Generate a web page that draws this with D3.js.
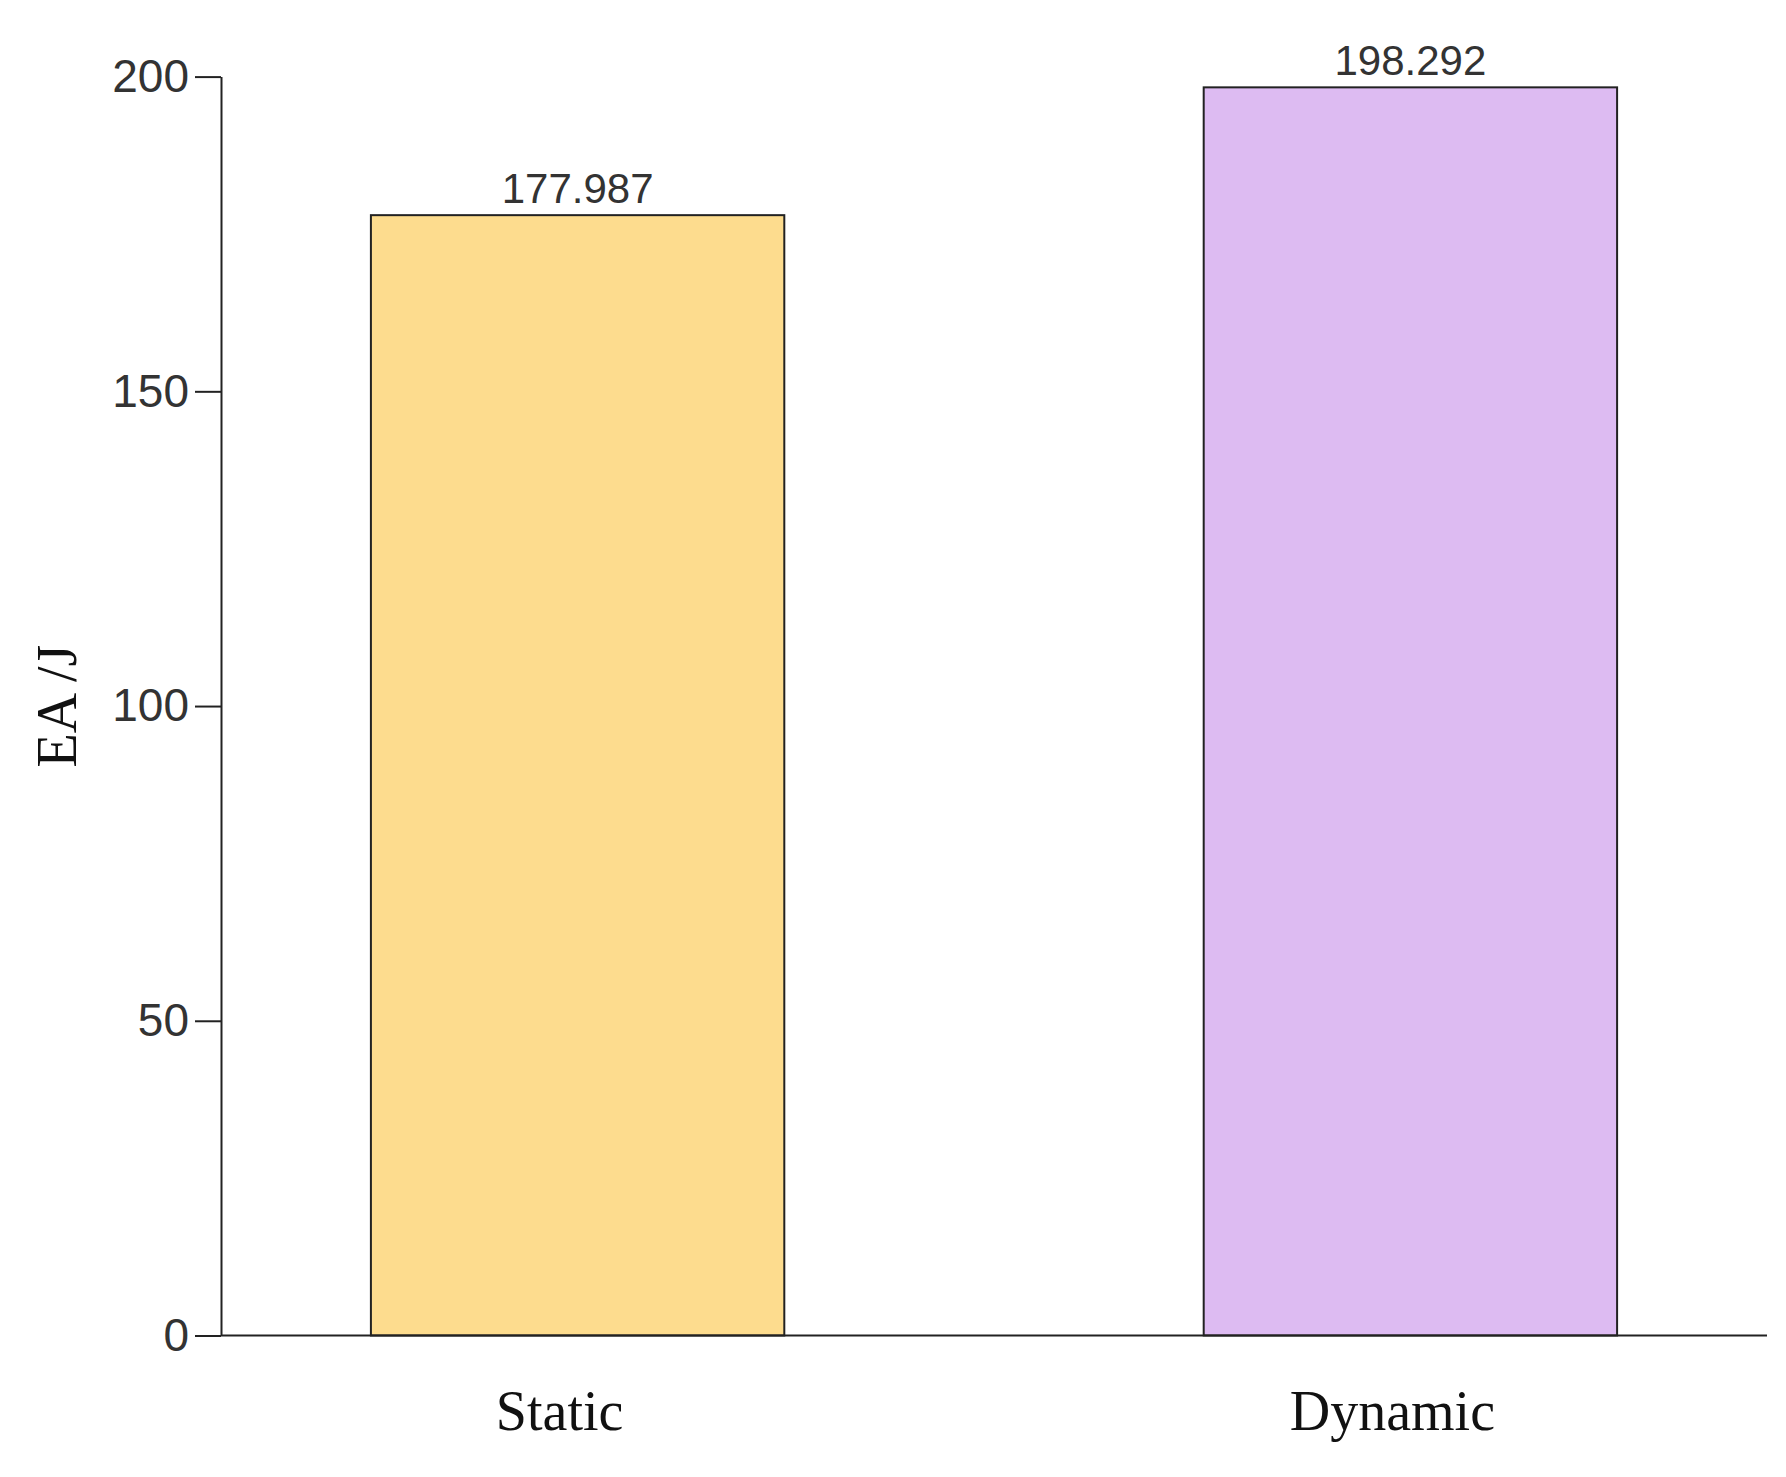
<!DOCTYPE html>
<html><head><meta charset="utf-8">
<script src="https://cdn.jsdelivr.net/npm/d3@7"></script>
<style>body{margin:0;background:#fff}</style></head>
<body><svg id="c" width="1786" height="1477"></svg>
<script>
const categories = ["Static", "Dynamic"];
const values = [177.987, 198.292];
const labels = ["177.987", "198.292"];
const colors = ["#FDDC8E", "#DDBBF2"];
const yTicks = [0, 50, 100, 150, 200];

const svg = d3.select("#c");
const L = 221, R = 1767, T = 76.6, B = 1335.5;
const x = d3.scaleBand().domain(categories).range([L, R]).paddingInner(0.5036).paddingOuter(0.18);
const y = d3.scaleLinear().domain([0, 200]).range([B, T]);

svg.selectAll("rect.bar").data(values).enter().append("rect")
  .attr("x", (d, i) => x(categories[i])).attr("width", x.bandwidth())
  .attr("y", d => y(d)).attr("height", d => y(0) - y(d))
  .attr("fill", (d, i) => colors[i]).attr("stroke", "#222").attr("stroke-width", 2);

svg.selectAll("text.val").data(values).enter().append("text")
  .attr("x", (d, i) => x(categories[i]) + x.bandwidth() / 2).attr("y", d => y(d) - 12)
  .attr("text-anchor", "middle").attr("font-family", "Liberation Sans, Arial").attr("font-size", 42)
  .attr("fill", "#333").text((d, i) => labels[i]);

const ya = svg.append("g").attr("transform", `translate(${L},0)`)
  .call(d3.axisLeft(y).tickValues(yTicks).tickSize(26).tickPadding(6).tickSizeOuter(0));
ya.selectAll("text").attr("font-family", "Liberation Sans, Arial").attr("font-size", 46).attr("fill", "#333");
ya.selectAll("line,path").attr("stroke", "#222").attr("stroke-width", 2);

svg.append("line").attr("x1", L).attr("x2", R).attr("y1", B).attr("y2", B).attr("stroke", "#222").attr("stroke-width", 2);

svg.selectAll("text.cat").data(categories).enter().append("text")
  .attr("x", d => x(d) + x.bandwidth() / 2 - 18).attr("y", 1430)
  .attr("text-anchor", "middle").attr("font-family", "Liberation Serif, Times New Roman").attr("font-size", 56)
  .attr("fill", "#111").text(d => d);

svg.append("text").attr("transform", `translate(76,${(T + B) / 2}) rotate(-90)`)
  .attr("text-anchor", "middle").attr("font-family", "Liberation Serif, Times New Roman").attr("font-size", 56)
  .attr("fill", "#111").text("EA /J");
</script></body></html>
